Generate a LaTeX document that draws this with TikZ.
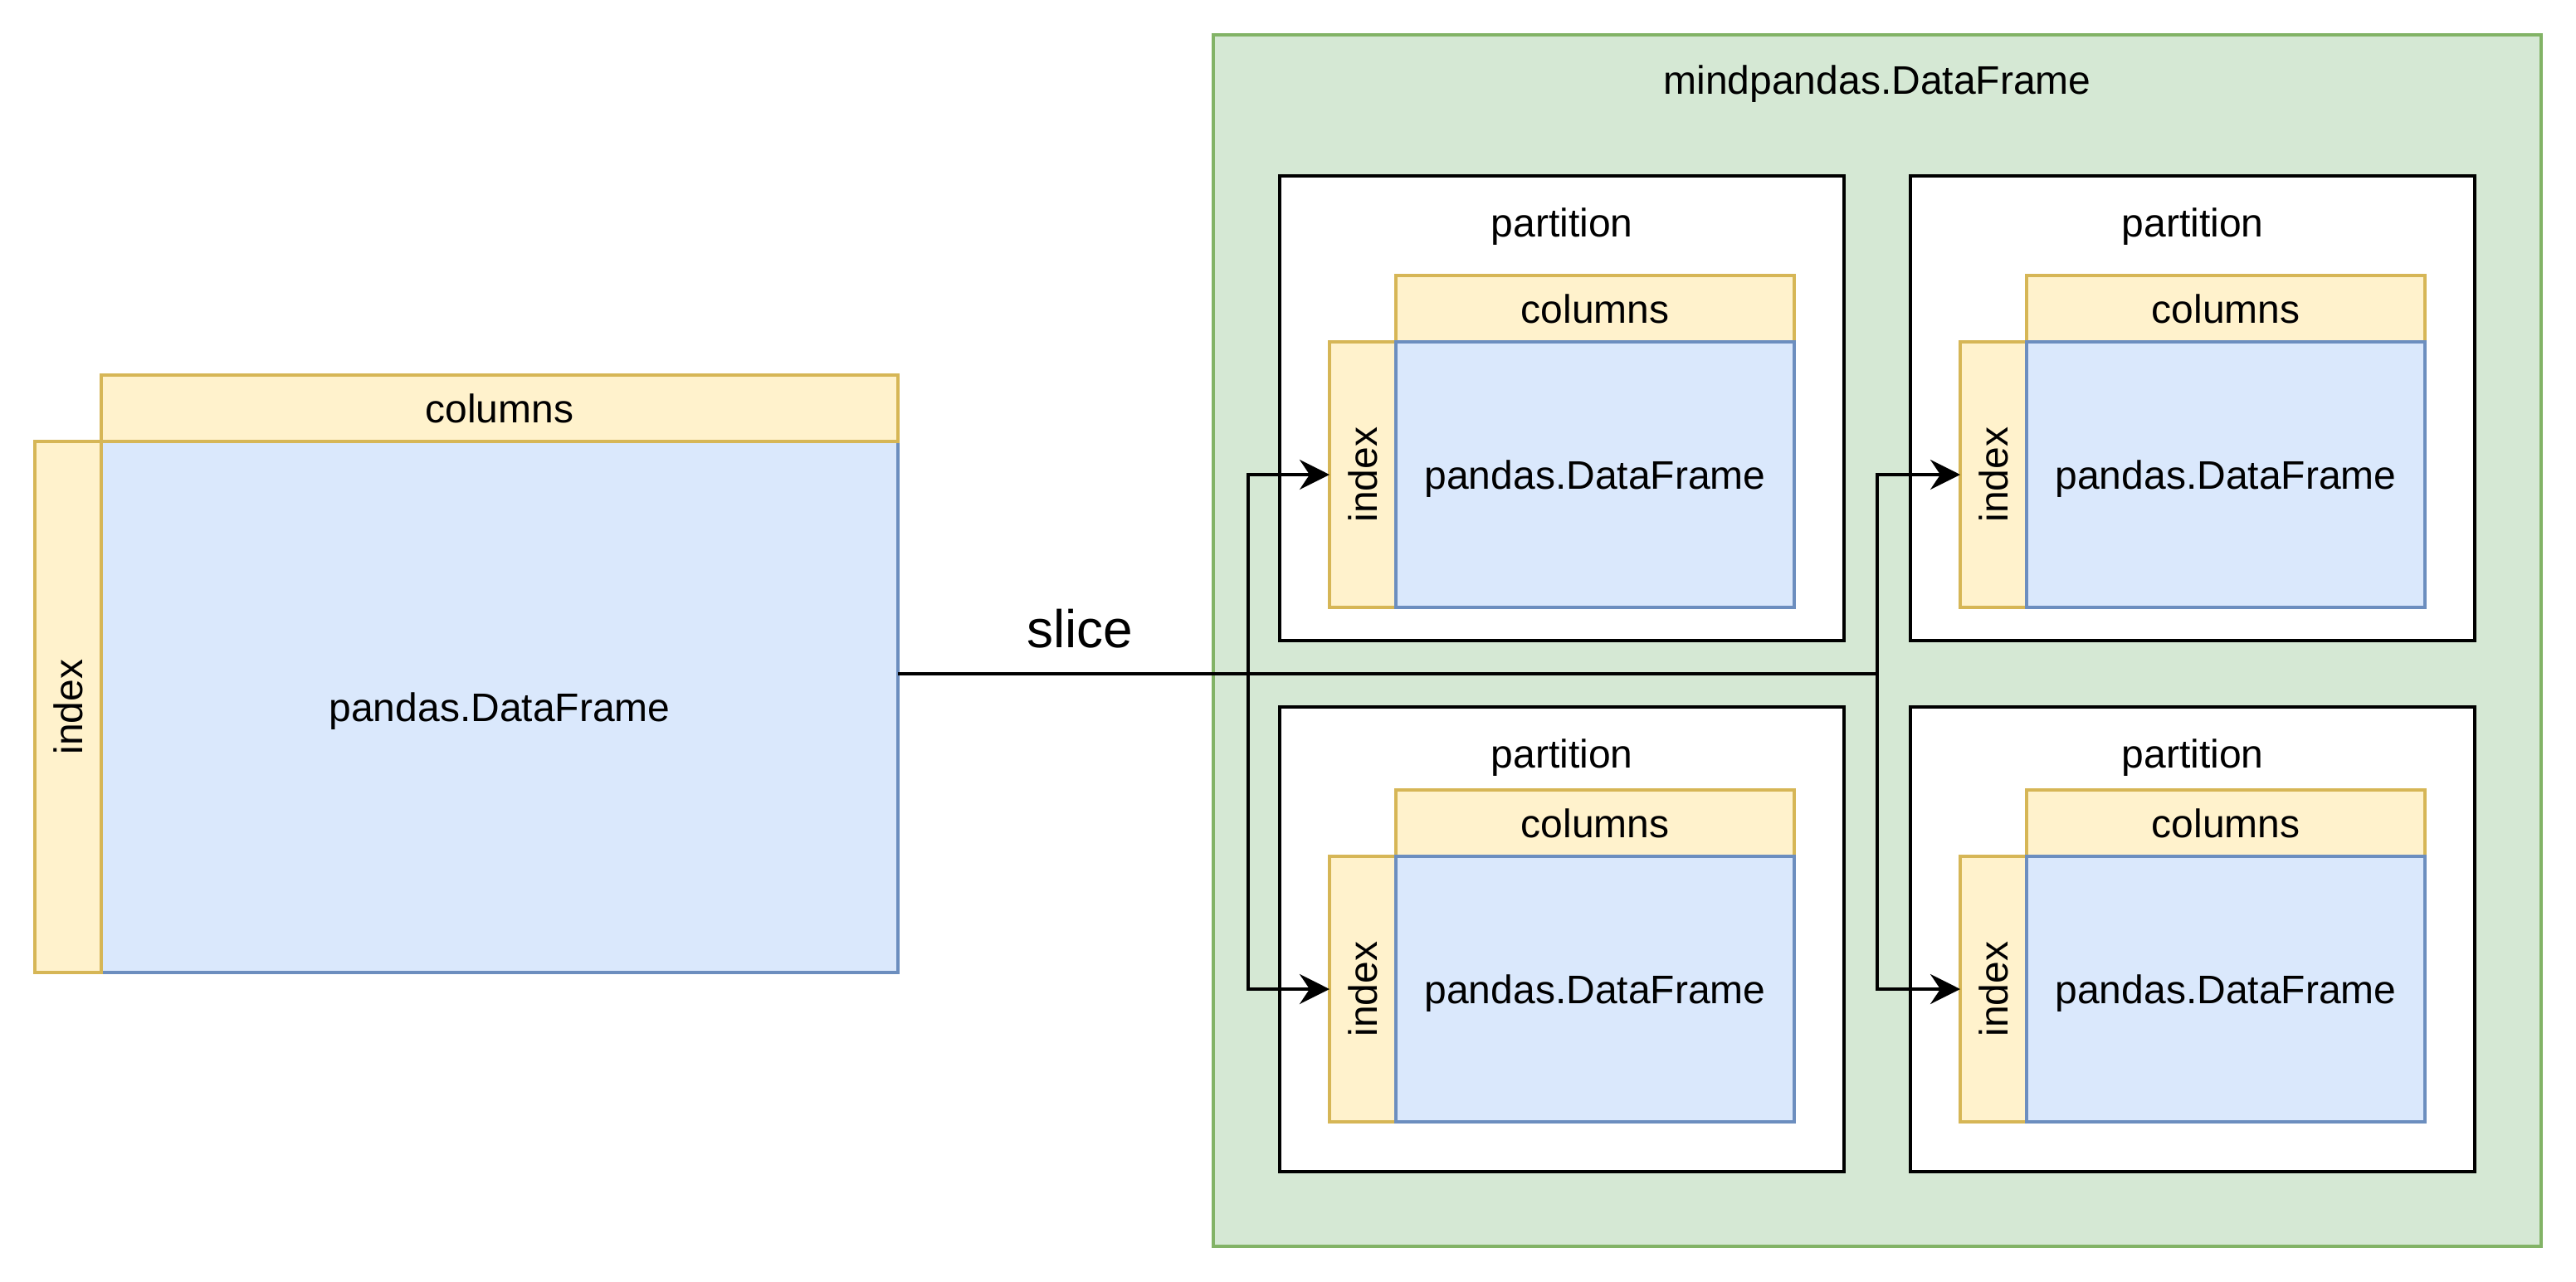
\documentclass[tikz,border=0pt]{standalone}
\usepackage{fontspec}
\setmainfont{Liberation Sans}
\usepackage{tikz}
\usetikzlibrary{positioning, arrows.meta}
\definecolor{colfill}{HTML}{FFF2CC}
\definecolor{coldraw}{HTML}{D6B656}
\definecolor{dffill}{HTML}{DAE8FC}
\definecolor{dfdraw}{HTML}{6C8EBF}
\definecolor{mindfill}{HTML}{D5E8D4}
\definecolor{minddraw}{HTML}{82B366}
\tikzset{
	every node/.style={
		align=center,
		font=\fontsize{12}{14}\selectfont,
	},
}
\tikzset{
	box-node/.style={
		rectangle,
		inner sep=0pt,
		outer sep=0pt,
		line width=1pt,
	},
	columns-node/.style={
		box-node,
		fill=colfill, draw=coldraw,
		minimum height=20pt,
	},
	index-node/.style={
		box-node,
		fill=colfill, draw=coldraw,
		minimum width=20pt,
	},
	frame-node/.style={
		box-node,
		fill=dffill, draw=dfdraw,
		text depth=0pt,
	},
	small-frame/.style={
		frame-node,
		minimum width=120pt,
		minimum height=80pt,
	},
	mind-node/.style={
		box-node,
		fill=mindfill, draw=minddraw,
		minimum width=400pt,
		minimum height=365pt,
		anchor=north west,
	},
	partition-node/.style={
		box-node,
		fill=white, draw=black,
		minimum width=170pt,
		minimum height=140pt,
		anchor=north west,
		label={[anchor=center, text depth=0pt, yshift=-14pt]north:partition},
	},
	edge-style/.style = {line width=1pt, -{Stealth[length=9pt, width=9pt, inset=3pt]}},
	slice-label/.style = {inner sep=0pt, font=\fontsize{16}{19}\selectfont},
}
\begin{document}
\begin{tikzpicture}[x=0.5pt, y=-0.5pt]
	\useasboundingbox (0,0) rectangle (1552,772);
	% pandas.DataFrame on the left
	\node (df0) [frame-node, anchor=north west, minimum width=240pt, minimum height=160pt] at (61,266) {pandas.DataFrame};
	\node (col0) [columns-node, above=0pt of df0, minimum width=240pt] {columns};
	\node (idx0) [index-node, left=0pt of df0, minimum height=160pt] {\rotatebox{90}{index}};
	% mindpandas.DataFrame
	\node (mind) [mind-node, label={[anchor=center, text depth=0pt, yshift=-13.5pt]north:mindpandas.DataFrame}] at (731,21) {};
	\node (part1) [partition-node] at (771,106) {};
	\node (col1) [columns-node, anchor=north west, minimum width=120pt] at (841,166) {columns};
	\node (idx1) [index-node, below left=0pt of col1, minimum height=80pt] {\rotatebox{90}{index}};
	\node (df1) [small-frame, below=0pt of col1] {pandas.DataFrame};
	\node (part2) [partition-node] at (1151,106) {};
	\node (col2) [columns-node, anchor=north west, minimum width=120pt] at (1221,166) {columns};
	\node (idx2) [index-node, below left=0pt of col2, minimum height=80pt] {\rotatebox{90}{index}};
	\node (df2) [small-frame, below=0pt of col2] {pandas.DataFrame};
	\node (part3) [partition-node] at (771,426) {};
	\node (col3) [columns-node, anchor=north west, minimum width=120pt] at (841,476) {columns};
	\node (idx3) [index-node, below left=0pt of col3, minimum height=80pt] {\rotatebox{90}{index}};
	\node (df3) [small-frame, below=0pt of col3] {pandas.DataFrame};
	\node (part4) [partition-node] at (1151,426) {};
	\node (col4) [columns-node, anchor=north west, minimum width=120pt] at (1221,476) {columns};
	\node (idx4) [index-node, below left=0pt of col4, minimum height=80pt] {\rotatebox{90}{index}};
	\node (df4) [small-frame, below=0pt of col4] {pandas.DataFrame};
	% slice
	\draw[edge-style] ([yshift=10pt]df0.east) -- node[slice-label, pos=0.52, above=7.2pt] {slice} ++(211,0) |- (idx1);
	\draw[edge-style] ([yshift=10pt]df0.east) -- ++(211,0) |- (idx3);
	\draw[edge-style] ([yshift=10pt]df0.east) -- ++(590,0) |- (idx2);
	\draw[edge-style] ([yshift=10pt]df0.east) -- ++(590,0) |- (idx4);
\end{tikzpicture}
\end{document}
